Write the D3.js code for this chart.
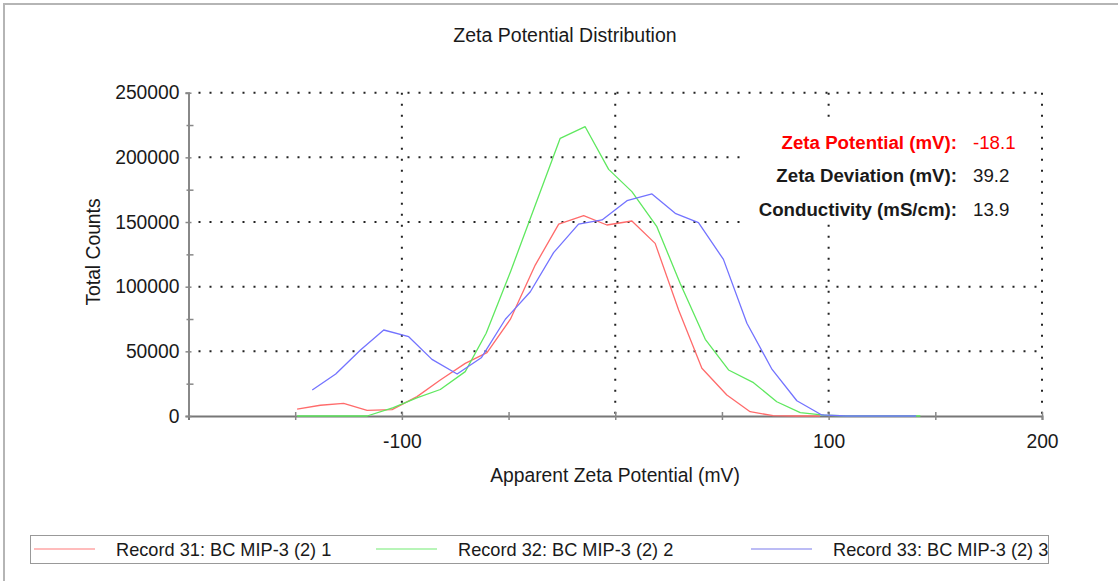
<!DOCTYPE html>
<html>
<head>
<meta charset="utf-8">
<script src="https://cdn.jsdelivr.net/npm/d3@7"></script>
<style>
  html, body { margin: 0; padding: 0; background: #fff; }
  svg { display: block; }
  text { font-family: "Liberation Sans", Arial, sans-serif; fill: #1a1a1a; }
</style>
</head>
<body>
<svg id="chart" width="1118" height="581"></svg>
<script>
// Zeta potential distribution, three records (mV vs total counts)
const redX   = [-149.1,-138.2,-127.3,-116.3,-104.6,-92.9,-82.0,-70.3,-60.1,-49.2,-37.5,-26.5,-14.8,-3.9,7.8,18.7,29.7,40.6,52.3,63.2,74.0,85.0,96.0];
const redY   = [5400,8300,9800,4400,4900,15000,27800,40700,49000,74700,116700,148400,154900,147700,150800,133500,82000,36900,16200,3300,300,0,0];

const greenX = [-149.1,-138.2,-127.3,-116.3,-104.0,-93.0,-82.0,-70.3,-60.5,-49.0,-37.5,-25.8,-14.1,-3.1,7.8,19.5,30.4,42.2,53.1,64.8,75.7,86.7,97.8,109.0,120.0,131.0,143.0];
const greenY = [0,0,0,0,6500,14000,20500,34300,64000,112000,163000,214700,223700,190700,173500,146400,102600,59300,35600,25800,11000,2600,600,0,0,0,0];

const blueX  = [-142.0,-131.0,-119.4,-108.5,-96.8,-85.9,-74.1,-62.8,-51.5,-39.8,-28.9,-17.2,-6.2,5.5,17.2,28.1,39.0,50.7,61.7,73.5,85.1,96.8,108.0,119.0,130.0,141.0];
const blueY  = [20100,32500,51000,66500,61300,43800,32500,45000,74800,96100,126300,148400,151600,166500,171700,156700,149500,121100,71700,36000,11800,800,0,0,0,0];

const seriesNames  = ["Record 31: BC MIP-3 (2) 1", "Record 32: BC MIP-3 (2) 2", "Record 33: BC MIP-3 (2) 3"];
const seriesColors = ["#ff6b6b", "#5fe85f", "#7373ff"];
const legendColors = ["#ffbcbc", "#b8f5b8", "#bcbcf5"];

const xMajorTicks = [-100, 0, 100, 200];
const xMinorTicks = [-150, -50, 50, 150];
const yMajorTicks = [0, 50000, 100000, 150000, 200000, 250000];
const yMinorTicks = [25000, 75000, 125000, 175000, 225000];

const statLabels = ["Zeta Potential (mV):", "Zeta Deviation (mV):", "Conductivity (mS/cm):"];
const statValues = ["-18.1", "39.2", "13.9"];

const svg = d3.select("#chart");

const x = d3.scaleLinear().domain([-200, 200]).range([188.5, 1042]);
const y = d3.scaleLinear().domain([0, 250000]).range([416, 92.7]);

// outer frame (left and top edges)
svg.append("path")
  .attr("d", "M4,581 V4 H1118")
  .attr("fill", "none").attr("stroke", "#b5b5b5").attr("stroke-width", 2);

// title
svg.append("text")
  .attr("x", 565).attr("y", 42)
  .attr("text-anchor", "middle").attr("font-size", 19.5)
  .text("Zeta Potential Distribution");

// dotted grid
const grid = svg.append("g").attr("stroke", "#222").attr("stroke-width", 2)
  .attr("stroke-dasharray", "2,9");
grid.selectAll("line.h").data(yMajorTicks.filter(d => d > 0)).join("line")
  .attr("class", "h")
  .attr("x1", x(-200) + 10).attr("x2", x(200))
  .attr("y1", d => y(d)).attr("y2", d => y(d));
grid.selectAll("line.v").data(xMajorTicks).join("line")
  .attr("class", "v")
  .attr("x1", d => x(d)).attr("x2", d => x(d))
  .attr("y1", y(250000)).attr("y2", y(0));

// x axis
const xAxis = svg.append("g").attr("transform", `translate(0,${y(0)})`)
  .call(d3.axisBottom(x).tickValues(xMajorTicks).tickSize(4).tickPadding(14));
xAxis.select(".domain").attr("stroke", "#777").attr("stroke-width", 2);
xAxis.selectAll(".tick line").attr("y1", -4).attr("y2", 4).attr("stroke", "#888").attr("stroke-width", 1.5);
xAxis.selectAll(".tick text").attr("font-size", 19.3).attr("fill", "#1a1a1a")
  .attr("font-family", "Liberation Sans, Arial, sans-serif")
  .text(d => d === 0 ? "" : String(d));

const xMinor = svg.append("g").attr("transform", `translate(0,${y(0)})`)
  .call(d3.axisBottom(x).tickValues(xMinorTicks).tickFormat("").tickSize(4));
xMinor.select(".domain").remove();
xMinor.selectAll(".tick line").attr("y1", -4).attr("y2", 4).attr("stroke", "#888").attr("stroke-width", 1.5);

// y axis
const yAxis = svg.append("g").attr("transform", `translate(${x(-200)},0)`)
  .call(d3.axisLeft(y).tickValues(yMajorTicks).tickFormat(d3.format("d")).tickSize(3).tickPadding(6));
yAxis.select(".domain").attr("stroke", "#888").attr("stroke-width", 2);
yAxis.selectAll(".tick line").attr("x1", -3).attr("x2", 3).attr("stroke", "#888").attr("stroke-width", 1.5);
yAxis.selectAll(".tick text").attr("font-size", 19.3).attr("fill", "#1a1a1a")
  .attr("font-family", "Liberation Sans, Arial, sans-serif");

const yMinor = svg.append("g").attr("transform", `translate(${x(-200)},0)`)
  .call(d3.axisLeft(y).tickValues(yMinorTicks).tickFormat("").tickSize(3));
yMinor.select(".domain").remove();
yMinor.selectAll(".tick line").attr("x1", -2).attr("x2", 5).attr("stroke", "#888").attr("stroke-width", 1.5);

// axis titles
svg.append("text")
  .attr("x", 615).attr("y", 482)
  .attr("text-anchor", "middle").attr("font-size", 19.3)
  .text("Apparent Zeta Potential (mV)");
svg.append("text")
  .attr("transform", "translate(100,252) rotate(-90)")
  .attr("text-anchor", "middle").attr("font-size", 19.3)
  .text("Total Counts");

// distribution curves
const series = [
  { xs: redX, ys: redY },
  { xs: greenX, ys: greenY },
  { xs: blueX, ys: blueY }
];
const line = d3.line().x(d => x(d[0])).y(d => y(d[1]));
svg.append("g").selectAll("path").data(series).join("path")
  .attr("d", s => line(s.xs.map((v, i) => [v, s.ys[i]])))
  .attr("fill", "none")
  .attr("stroke", (s, i) => seriesColors[i])
  .attr("stroke-width", 1.3)
  .attr("stroke-linejoin", "round");

// summary statistics box
svg.append("rect")
  .attr("x", 745).attr("y", 118).attr("width", 292).attr("height", 106)
  .attr("fill", "#fff");
const stats = svg.append("g");
statLabels.forEach((lab, i) => {
  const yy = 148.6 + i * 33.5;
  stats.append("text")
    .attr("x", 957).attr("y", yy).attr("text-anchor", "end")
    .attr("font-size", 18.7).attr("font-weight", "bold")
    .style("fill", i === 0 ? "#ff0000" : "#1a1a1a")
    .text(lab);
  stats.append("text")
    .attr("x", 973).attr("y", yy)
    .attr("font-size", 18.7)
    .style("fill", i === 0 ? "#ff0000" : "#1a1a1a")
    .text(statValues[i]);
});

// legend
svg.append("rect")
  .attr("x", 30.5).attr("y", 535.5).attr("width", 1018).attr("height", 28)
  .attr("fill", "#fff").attr("stroke", "#999").attr("stroke-width", 1);
const legendLineX = [34, 376, 751];
const legendTextX = [116, 458, 833];
const lg = svg.append("g");
seriesNames.forEach((name, i) => {
  lg.append("line")
    .attr("x1", legendLineX[i]).attr("x2", legendLineX[i] + 61)
    .attr("y1", 549).attr("y2", 549)
    .attr("stroke", legendColors[i]).attr("stroke-width", 2);
  lg.append("text")
    .attr("x", legendTextX[i]).attr("y", 555.5)
    .attr("font-size", 18.2)
    .text(name);
});
</script>
</body>
</html>
